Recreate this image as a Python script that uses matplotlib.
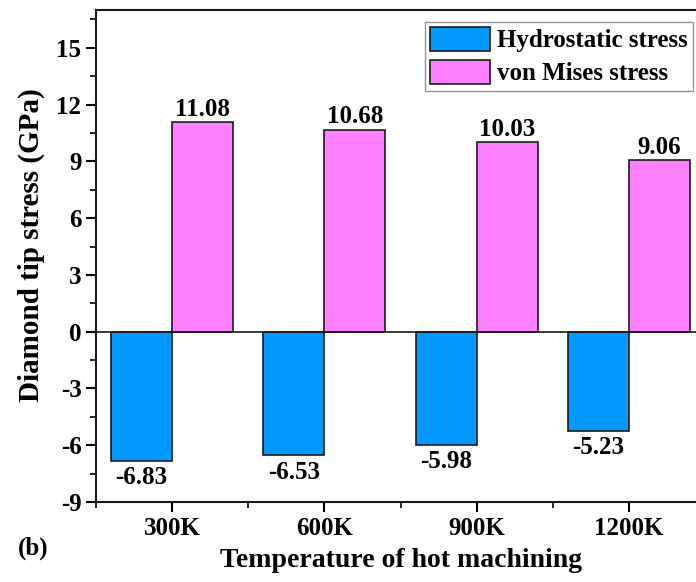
import matplotlib.pyplot as plt
import numpy as np
from matplotlib.ticker import MultipleLocator

temperatures = ["300K", "600K", "900K", "1200K"]
hydrostatic = [-6.83, -6.53, -5.98, -5.23]
von_mises = [11.08, 10.68, 10.03, 9.06]

plt.rcParams["font.family"] = ["Liberation Serif", "DejaVu Serif"]
plt.rcParams["font.weight"] = "bold"
plt.rcParams["axes.unicode_minus"] = False

fig = plt.figure(figsize=(6.96, 5.82), dpi=100)
ax = fig.add_axes([96 / 696, 80 / 582, 609 / 696, 492 / 582])

x = np.arange(1, len(temperatures) + 1)
width = 0.4
bars_h = ax.bar(x - width / 2, hydrostatic, width, color="#0099ff",
                edgecolor="#1a1a1a", linewidth=1.2, label="Hydrostatic stress")
bars_v = ax.bar(x + width / 2, von_mises, width, color="#ff80ff",
                edgecolor="#1a1a1a", linewidth=1.2, label="von Mises stress")
ax.axhline(0, color="#1a1a1a", linewidth=1.2)

# value labels: below the negative bars, above the positive ones
for b, v in zip(bars_h, hydrostatic):
    ax.annotate(f"{v:.2f}", (b.get_x() + b.get_width() / 2, v),
                xytext=(0, -4), textcoords="offset points",
                ha="center", va="top", fontsize=18, fontweight="bold")
for b, v in zip(bars_v, von_mises):
    ax.annotate(f"{v:.2f}", (b.get_x() + b.get_width() / 2, v),
                xytext=(0, 1), textcoords="offset points",
                ha="center", va="bottom", fontsize=18, fontweight="bold")

ax.set_xlim(0.5, 4.5)
ax.set_ylim(-9, 17)
ax.set_xticks(x)
ax.set_xticklabels(temperatures)
ax.xaxis.set_minor_locator(MultipleLocator(0.5))
ax.yaxis.set_major_locator(MultipleLocator(3))
ax.yaxis.set_minor_locator(MultipleLocator(1.5))
ax.tick_params(which="major", direction="out", length=7, width=1.5, labelsize=18)
ax.tick_params(which="minor", direction="out", length=4, width=1.2)
for s in ax.spines.values():
    s.set_linewidth(1.5)
    s.set_color("#1a1a1a")

ax.set_xlabel("Temperature of hot machining", fontsize=20, fontweight="bold", labelpad=6)
ax.set_ylabel("Diamond tip stress (GPa)", fontsize=21, fontweight="bold")
ax.yaxis.set_label_coords(-0.083, 0.522)

fig.legend(handles=[bars_h, bars_v], loc="upper right",
           bbox_to_anchor=(693 / 696, (582 - 22) / 582),
           bbox_transform=fig.transFigure, borderaxespad=0,
           fontsize=18, frameon=True, fancybox=False, edgecolor="#777777",
           handlelength=2.4, handleheight=1.1, handletextpad=0.3,
           labelspacing=0.3, borderpad=0.2)

fig.text(18 / 696, 1 - 548 / 582, "(b)", fontsize=18, fontweight="bold",
         ha="left", va="center")

fig.savefig("out.png", dpi=100)
